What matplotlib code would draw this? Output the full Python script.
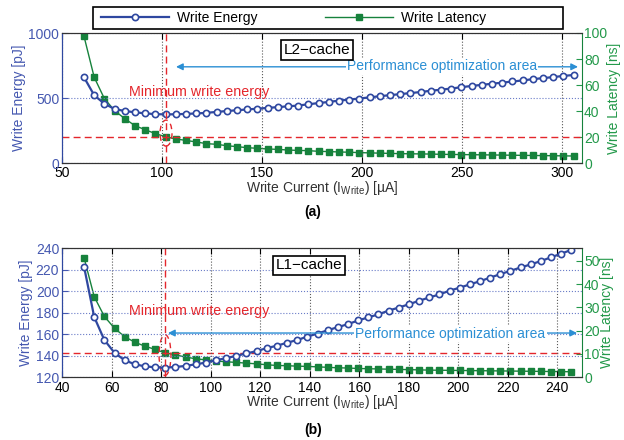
import matplotlib
matplotlib.use("Agg")
import matplotlib.pyplot as plt
from matplotlib.patches import Ellipse, Rectangle
from matplotlib.lines import Line2D

plt.rcParams['font.family'] = ['Liberation Sans', 'DejaVu Sans']
plt.rcParams['mathtext.fontset'] = 'custom'
plt.rcParams['mathtext.rm'] = 'Liberation Sans'

# ---- data: L2-cache (a) ----
cur_l2 = [61.0, 66.1, 71.2, 76.3, 81.4, 86.5, 91.6, 96.7, 101.8, 106.9,
          112.0, 117.1, 122.2, 127.3, 132.4, 137.5, 142.6, 147.7, 152.8, 157.9,
          163.0, 168.1, 173.2, 178.3, 183.4, 188.5, 193.6, 198.7, 203.8, 208.9,
          214.0, 219.1, 224.2, 229.3, 234.4, 239.5, 244.6, 249.7, 254.8, 259.9,
          265.0, 270.1, 275.2, 280.3, 285.4, 290.5, 295.6, 300.7, 305.8]
energy_l2 = [659, 521, 456, 415, 400, 390, 382, 376, 374, 375,
             378, 381, 386, 393, 400, 406, 412, 418, 424, 430,
             436, 442, 452, 461, 470, 480, 488, 496, 505, 514,
             522, 530, 538, 546, 556, 564, 573, 583, 593, 601,
             610, 618, 627, 635, 645, 653, 661, 670, 677]
latency_l2 = [97.4, 65.9, 49.5, 40.3, 34.1, 28.7, 25.6, 22.6, 20.2, 18.5,
              17.4, 16.2, 14.9, 14.4, 13.3, 12.6, 11.8, 11.3, 10.8, 10.5,
              10.0, 9.7, 9.5, 9.0, 8.8, 8.5, 8.3, 8.0, 7.8, 7.6,
              7.4, 7.2, 7.1, 7.0, 6.9, 6.7, 6.6, 6.5, 6.4, 6.3,
              6.2, 6.1, 6.0, 5.9, 5.8, 5.7, 5.6, 5.5, 5.4]

# ---- data: L1-cache (b) ----
cur_l1 = [48.9, 53.0, 57.1, 61.2, 65.3, 69.4, 73.5, 77.6, 81.7, 85.8,
          89.9, 94.0, 98.1, 102.2, 106.3, 110.4, 114.5, 118.6, 122.7, 126.8,
          130.9, 135.0, 139.1, 143.2, 147.3, 151.4, 155.5, 159.6, 163.7, 167.8,
          171.9, 176.0, 180.1, 184.2, 188.3, 192.4, 196.5, 200.6, 204.7, 208.8,
          212.9, 217.0, 221.1, 225.2, 229.3, 233.4, 237.5, 241.6, 245.7]
energy_l1 = [222.7, 175.9, 154.5, 142.6, 135.7, 131.9, 130.0, 129.1, 128.8, 129.4,
             130.4, 131.9, 133.5, 135.7, 137.6, 139.8, 142.0, 144.2, 147.0, 149.2,
             152.0, 154.5, 157.7, 160.5, 163.6, 166.5, 169.3, 172.7, 175.6, 178.4,
             181.9, 184.7, 187.8, 191.0, 194.1, 196.9, 200.4, 203.2, 206.3, 209.2,
             212.6, 215.8, 218.9, 222.0, 224.9, 228.0, 231.5, 234.9, 238.4]
latency_l1 = [51.4, 34.6, 26.1, 21.0, 17.4, 15.0, 13.3, 11.9, 10.4, 9.6,
              8.6, 7.9, 7.4, 6.9, 6.6, 6.3, 6.0, 5.7, 5.3, 5.0,
              4.9, 4.7, 4.6, 4.4, 4.2, 4.0, 3.9, 3.7, 3.6, 3.5,
              3.4, 3.3, 3.2, 3.1, 3.0, 2.95, 2.9, 2.85, 2.8, 2.75,
              2.7, 2.65, 2.6, 2.55, 2.5, 2.45, 2.4, 2.35, 2.3]

BLUE = '#2f48a0'
BLUE_TXT = '#4558b0'
GREEN = '#16823c'
GREEN_TXT = '#23994a'
RED = '#e4262c'
ARROW = '#2b8fd4'

fig = plt.figure(figsize=(6.24, 4.4), dpi=100)


def panel(rect, cur, energy, latency, xlim, ylim_e, yticks_e, ylim_l, yticks_l, xticks,
          imin, label, label_xy, minlab_xy, arrow_y, arrow_x, perf_xy, ell, tag):
    ax = fig.add_axes(rect)
    ax2 = ax.twinx()
    ax.set_zorder(ax2.get_zorder() + 1)
    ax.patch.set_visible(False)

    ax2.plot(cur, latency, '-s', color=GREEN, lw=1.0, ms=4.5, mfc=GREEN, mec=GREEN)
    ax.plot(cur, energy, '-o', color=BLUE, lw=1.6, ms=4.5, mfc='white', mec=BLUE, mew=1.2)

    ax.set_xlim(*xlim)
    ax.set_ylim(*ylim_e)
    ax2.set_ylim(*ylim_l)
    ax.set_xticks(xticks)
    ax.set_yticks(yticks_e)
    ax2.set_yticks(yticks_l)

    ax.xaxis.grid(True, ls=':', color='0.35', lw=0.8)
    ax.yaxis.grid(True, ls=':', color='#6a7cc8', lw=0.8)

    ax.tick_params(axis='x', direction='in', top=True, length=4, labelsize=10, pad=2.5, colors='black')
    ax.tick_params(axis='y', direction='in', length=4, labelsize=10, pad=2, colors=BLUE_TXT)
    ax2.tick_params(axis='y', direction='in', length=4, labelsize=10, pad=1.5, colors=GREEN_TXT)
    ax.spines['left'].set_color(BLUE)
    ax2.spines['left'].set_color(BLUE)
    ax2.spines['right'].set_color(GREEN)
    ax.spines['right'].set_visible(False)
    for a in (ax, ax2):
        a.spines['top'].set_color('0.2')
        a.spines['bottom'].set_color('0.2')

    ax.set_ylabel('Write Energy [pJ]', color=BLUE_TXT, fontsize=10, labelpad=2)
    ax2.set_ylabel('Write Latency [ns]', color=GREEN_TXT, fontsize=10, rotation=90, labelpad=0)
    ax.set_xlabel('Write Current (I$_{\\mathregular{Write}}$) [\u00b5A]', fontsize=10,
                  color='0.2', labelpad=-1)

    # minimum energy markers
    ax.axvline(cur[imin], color=RED, ls=(0, (5, 3)), lw=1.0)
    ax2.axhline(latency[imin], color=RED, ls=(0, (5, 3)), lw=1.0)
    ax.add_patch(Ellipse(ell[:2], ell[2], ell[3], fill=False, ec=RED, ls=(0, (4, 3)), lw=1.0))

    ax.text(minlab_xy[0], minlab_xy[1], 'Minimum write energy', color=RED, fontsize=10.3,
            ha='center', va='center')
    ax.annotate('', xy=(arrow_x[0], arrow_y), xytext=(arrow_x[1], arrow_y),
                arrowprops=dict(arrowstyle='<|-|>', color=ARROW, lw=1.0, mutation_scale=10,
                                shrinkA=0, shrinkB=0))
    ax.text(perf_xy[0], perf_xy[1], 'Performance optimization area', color=ARROW, fontsize=10,
            ha='center', va='center', bbox=dict(fc='white', ec='none', pad=1))
    ax.text(label_xy[0], label_xy[1], label, fontsize=11, ha='center', va='center',
            bbox=dict(fc='white', ec='black', lw=1.2, pad=2))

    fig.text(rect[0] + rect[2] / 2 - 0.015, tag[1], tag[0], fontsize=10, fontweight='bold',
             ha='center', va='center')
    return ax, ax2


ax_a, ax_a2 = panel([0.0994, 0.6295, 0.8333, 0.2955], cur_l2, energy_l2, latency_l2,
                    (50, 310), (0, 1000), [0, 500, 1000], (0, 100), [0, 20, 40, 60, 80, 100],
                    [50, 100, 150, 200, 250, 300], 8, 'L2\u2212cache', (177.5, 870),
                    (118.5, 546), 740, (107, 308), (240, 745), (102, 230, 6, 200),
                    ('(a)', 0.518))

ax_b, ax_b2 = panel([0.0994, 0.143, 0.8333, 0.293], cur_l1, energy_l1, latency_l1,
                    (40, 250), (120, 240), [120, 140, 160, 180, 200, 220, 240], (0, 55.5),
                    [0, 10, 20, 30, 40, 50],
                    [40, 60, 80, 100, 120, 140, 160, 180, 200, 220, 240], 8, 'L1\u2212cache',
                    (139.6, 224), (95.4, 181.7), 161, (82.8, 248), (196.8, 160.5),
                    (81.6, 140.5, 4.8, 38), ('(b)', 0.023))

# legend on top: frame drawn as a rectangle, entries placed inside
fig.patches.append(Rectangle((0.149, 0.934), 0.753, 0.05, transform=fig.transFigure,
                             fill=True, fc='white', ec='black', lw=1.2))
h1 = Line2D([], [], color=BLUE, lw=1.6, marker='o', ms=4.5, mfc='white', mec=BLUE, mew=1.2)
h2 = Line2D([], [], color=GREEN, lw=1.0, marker='s', ms=4.5, mfc=GREEN, mec=GREEN)
leg = fig.legend([h1, h2], ['Write Energy', 'Write Latency'], ncol=2,
                 loc='center left', bbox_to_anchor=(0.162, 0.959),
                 frameon=False, fontsize=10, handlelength=4.9, borderpad=0,
                 borderaxespad=0, handletextpad=0.6, columnspacing=4.8)

fig.savefig('out.png', dpi=100)
